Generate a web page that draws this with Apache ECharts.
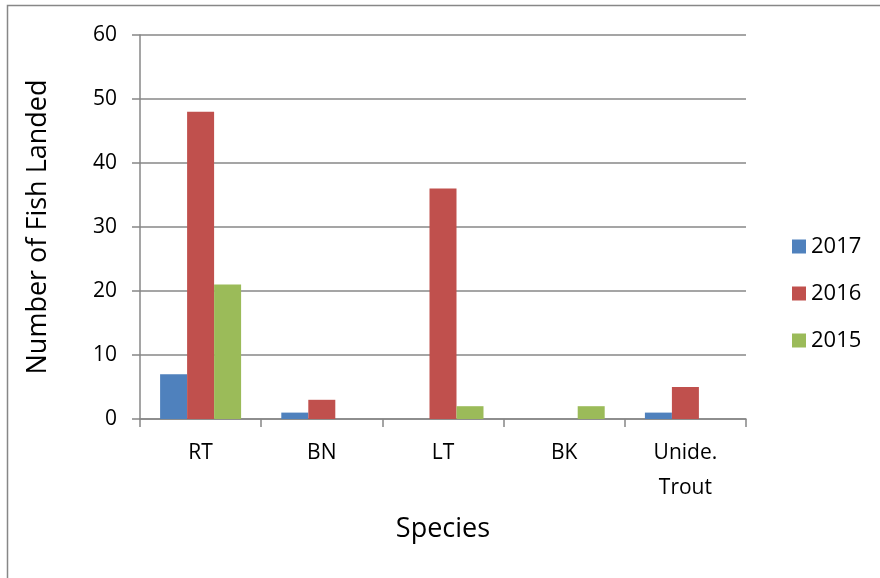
<!DOCTYPE html>
<html>
<head>
<meta charset="utf-8">
<script src="https://cdn.jsdelivr.net/npm/echarts@6/dist/echarts.min.js"></script>
<style>
  html, body { margin: 0; padding: 0; background: #fff; }
  #chart { width: 880px; height: 578px; }
</style>
</head>
<body>
<div id="chart"></div>
<script>
// Fish landed by species and year
const species = ['RT', 'BN', 'LT', 'BK', 'Unide.\nTrout'];
const years = ['2017', '2016', '2015'];
const landed2017 = [7, 1, 0, 0, 1];
const landed2016 = [48, 3, 36, 0, 5];
const landed2015 = [21, 0, 2, 2, 0];
const yTicks = [0, 10, 20, 30, 40, 50, 60];

const colors = ['#4F81BD', '#C0504D', '#9BBB59'];
const font = '"Open Sans", "DejaVu Sans", sans-serif';
const gray = '#878787';

const chart = echarts.init(document.getElementById('chart'));
const seriesData = [landed2017, landed2016, landed2015];

chart.setOption({
  animation: false,
  color: colors,
  graphic: [{
    type: 'rect',
    shape: { x: 7.5, y: 5.5, width: 900, height: 620 },
    style: { fill: 'none', stroke: gray, lineWidth: 1.5 },
    silent: true
  }],
  grid: { left: 140, right: 134, top: 35, bottom: 159 },
  legend: {
    orient: 'vertical',
    left: 787,
    top: 229,
    itemWidth: 14,
    itemHeight: 14,
    itemGap: 22,
    icon: 'rect',
    textStyle: { fontFamily: font, fontSize: 22, lineHeight: 25, color: '#000', padding: [0, 0, 0, 0] },
    data: years
  },
  xAxis: {
    type: 'category',
    data: species,
    name: 'Species',
    nameLocation: 'middle',
    nameGap: 97,
    nameTextStyle: { fontFamily: font, fontSize: 27, color: '#000' },
    axisLine: { lineStyle: { color: gray, width: 1.5 } },
    axisTick: { show: true, length: 8, alignWithLabel: false, lineStyle: { color: gray, width: 1.5 } },
    axisLabel: { fontFamily: font, fontSize: 21, color: '#000', margin: 17, lineHeight: 35 }
  },
  yAxis: {
    type: 'value',
    min: yTicks[0],
    max: yTicks[yTicks.length - 1],
    interval: 10,
    name: 'Number of Fish Landed',
    nameLocation: 'middle',
    nameGap: 88,
    nameTextStyle: { fontFamily: font, fontSize: 27, color: '#000' },
    axisLine: { show: true, lineStyle: { color: gray, width: 1.5 } },
    axisTick: { show: true, length: 8, inside: false, lineStyle: { color: gray, width: 1.5 } },
    axisLabel: { fontFamily: font, fontSize: 21, color: '#000', margin: 23 },
    splitLine: { show: true, lineStyle: { color: gray, width: 1.5 } }
  },
  series: years.map((y, i) => ({
    name: y,
    type: 'bar',
    data: seriesData[i],
    barWidth: 27,
    barGap: '0%',
    itemStyle: { color: colors[i] }
  }))
});
</script>
</body>
</html>
